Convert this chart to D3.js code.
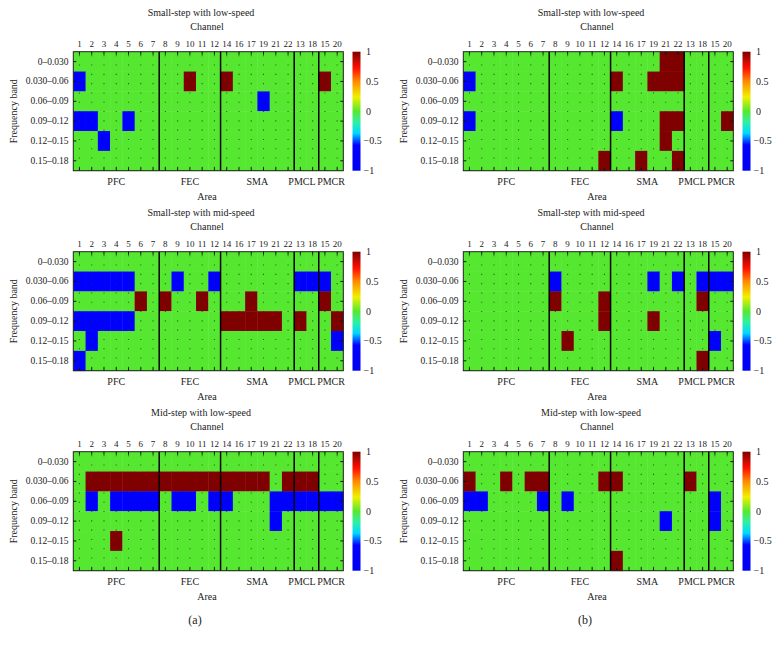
<!DOCTYPE html>
<html>
<head>
<meta charset="utf-8">
<script src="https://cdn.jsdelivr.net/npm/d3@7"></script>
<style>
  html, body { margin: 0; padding: 0; background: #fff; }
  svg text { font-family: "Liberation Serif", "DejaVu Serif", serif; fill: #222; }
</style>
</head>
<body>
<svg id="chart" width="780" height="646"></svg>
<script>
// ---------- data ----------
const channels = ["1","2","3","4","5","6","7","8","9","10","11","12","14","16","17","19","21","22","13","18","15","20"];
const bands = ["0\u20130.030","0.030\u20130.06","0.06\u20130.09","0.09\u20130.12","0.12\u20130.15","0.15\u20130.18"];
const areaNames = ["PFC","FEC","SMA","PMCL","PMCR"];
const areaSizes = [7,5,6,2,2];
const panelTitles = ["Small-step with low-speed","Small-step with low-speed",
                     "Small-step with mid-speed","Small-step with mid-speed",
                     "Mid-step with low-speed","Mid-step with low-speed"];
const colorbarTicks = [1,0.5,0,-0.5,-1];
const subLabels = ["(a)","(b)"];

// columns: 1..7 | 8..12 | 14 16 17 19 21 22 | 13 18 | 15 20
const smallLowA = [
 [0,0,0,0,0,0,0, 0,0,0,0,0, 0,0,0,0,0,0, 0,0, 0,0],
 [-1,0,0,0,0,0,0, 0,0,1,0,0, 1,0,0,0,0,0, 0,0, 1,0],
 [0,0,0,0,0,0,0, 0,0,0,0,0, 0,0,0,-1,0,0, 0,0, 0,0],
 [-1,-1,0,0,-1,0,0, 0,0,0,0,0, 0,0,0,0,0,0, 0,0, 0,0],
 [0,0,-1,0,0,0,0, 0,0,0,0,0, 0,0,0,0,0,0, 0,0, 0,0],
 [0,0,0,0,0,0,0, 0,0,0,0,0, 0,0,0,0,0,0, 0,0, 0,0]];
const smallLowB = [
 [0,0,0,0,0,0,0, 0,0,0,0,0, 0,0,0,0,1,1, 0,0, 0,0],
 [-1,0,0,0,0,0,0, 0,0,0,0,0, 1,0,0,1,1,1, 0,0, 0,0],
 [0,0,0,0,0,0,0, 0,0,0,0,0, 0,0,0,0,0,0, 0,0, 0,0],
 [-1,0,0,0,0,0,0, 0,0,0,0,0, -1,0,0,0,1,1, 0,0, 0,1],
 [0,0,0,0,0,0,0, 0,0,0,0,0, 0,0,0,0,1,0, 0,0, 0,0],
 [0,0,0,0,0,0,0, 0,0,0,0,1, 0,0,1,0,0,1, 0,0, 0,0]];
const smallMidA = [
 [0,0,0,0,0,0,0, 0,0,0,0,0, 0,0,0,0,0,0, 0,0, 0,0],
 [-1,-1,-1,-1,-1,0,0, 0,-1,0,0,-1, 0,0,0,0,0,0, -1,-1, -1,0],
 [0,0,0,0,0,1,0, 1,0,0,1,0, 0,0,1,0,0,0, 0,0, 1,0],
 [-1,-1,-1,-1,-1,0,0, 0,0,0,0,0, 1,1,1,1,1,0, 1,0, 0,1],
 [0,-1,0,0,0,0,0, 0,0,0,0,0, 0,0,0,0,0,0, 0,0, 0,-1],
 [-1,0,0,0,0,0,0, 0,0,0,0,0, 0,0,0,0,0,0, 0,0, 0,0]];
const smallMidB = [
 [0,0,0,0,0,0,0, 0,0,0,0,0, 0,0,0,0,0,0, 0,0, 0,0],
 [0,0,0,0,0,0,0, -1,0,0,0,0, 0,0,0,-1,0,-1, 0,-1, -1,-1],
 [0,0,0,0,0,0,0, 1,0,0,0,1, 0,0,0,0,0,0, 0,1, 0,0],
 [0,0,0,0,0,0,0, 0,0,0,0,1, 0,0,0,1,0,0, 0,0, 0,0],
 [0,0,0,0,0,0,0, 0,1,0,0,0, 0,0,0,0,0,0, 0,0, -1,0],
 [0,0,0,0,0,0,0, 0,0,0,0,0, 0,0,0,0,0,0, 0,1, 0,0]];
const midLowA = [
 [0,0,0,0,0,0,0, 0,0,0,0,0, 0,0,0,0,0,0, 0,0, 0,0],
 [0,1,1,1,1,1,1, 1,1,1,1,1, 1,1,1,1,0,1, 1,1, 0,0],
 [0,-1,0,-1,-1,-1,-1, 0,-1,-1,0,-1, -1,0,0,0,-1,-1, -1,-1, -1,-1],
 [0,0,0,0,0,0,0, 0,0,0,0,0, 0,0,0,0,-1,0, 0,0, 0,0],
 [0,0,0,1,0,0,0, 0,0,0,0,0, 0,0,0,0,0,0, 0,0, 0,0],
 [0,0,0,0,0,0,0, 0,0,0,0,0, 0,0,0,0,0,0, 0,0, 0,0]];
const midLowB = [
 [0,0,0,0,0,0,0, 0,0,0,0,0, 0,0,0,0,0,0, 0,0, 0,0],
 [1,0,0,1,0,1,1, 0,0,0,0,1, 1,0,0,0,0,0, 1,0, 0,0],
 [-1,-1,0,0,0,0,-1, 0,-1,0,0,0, 0,0,0,0,0,0, 0,0, -1,0],
 [0,0,0,0,0,0,0, 0,0,0,0,0, 0,0,0,0,-1,0, 0,0, -1,0],
 [0,0,0,0,0,0,0, 0,0,0,0,0, 0,0,0,0,0,0, 0,0, 0,0],
 [0,0,0,0,0,0,0, 0,0,0,0,0, 1,0,0,0,0,0, 0,0, 0,0]];
const panelData = [smallLowA, smallLowB, smallMidA, smallMidB, midLowA, midLowB];

// ---------- drawing ----------
const svg = d3.select("#chart");
svg.append("rect").attr("width",780).attr("height",646).attr("fill","#fff");

const colorStops = [
  [-1, "#0000f0"], [-0.57, "#0000ff"], [-0.37, "#00d8ff"], [-0.18, "#30f0a0"],
  [0, "#56e830"], [0.24, "#f0f000"], [0.5, "#ff8a00"], [0.72, "#ff1000"], [1, "#7f0000"]];
const color = d3.scaleLinear()
  .domain(colorStops.map(d => d[0]))
  .range(colorStops.map(d => d[1]))
  .interpolate(d3.interpolateRgb);
const cellColor = v => v === 1 ? "#800000" : v === -1 ? "#0000ff" : "#56e830";

const plotL = 73.3, plotR = 343.3, plotT = 51.7, plotB = 170.7;
const x = d3.scaleBand().domain(channels).range([plotL, plotR]).padding(0);
const y = d3.scaleBand().domain(bands).range([plotT, plotB]).padding(0);
const cb = d3.scaleLinear().domain([-1, 1]).range([plotB, plotT]);

const defs = svg.append("defs");
const grad = defs.append("linearGradient").attr("id","cbgrad")
  .attr("x1",0).attr("y1",1).attr("x2",0).attr("y2",0);
colorStops.forEach(s => grad.append("stop")
  .attr("offset", ((s[0]+1)/2*100) + "%").attr("stop-color", s[1]));

// area boundaries (start indices)
const areaStarts = [];
areaSizes.reduce((acc, n) => { areaStarts.push(acc); return acc + n; }, 0);

panelData.forEach((mat, pi) => {
  const col = pi % 2, row = Math.floor(pi / 2);
  const g = svg.append("g").attr("transform", `translate(${col*390},${row*200})`);

  // cells
  mat.forEach((rowVals, r) => {
    rowVals.forEach((v, c) => {
      g.append("rect")
        .attr("x", x(channels[c])).attr("y", y(bands[r]))
        .attr("width", x.bandwidth() + 0.4).attr("height", y.bandwidth() + 0.4)
        .attr("fill", cellColor(v));
    });
  });

  // dotted grid at channel centres
  channels.forEach(ch => {
    const cx = x(ch) + x.bandwidth()/2;
    g.append("line").attr("x1", cx).attr("x2", cx).attr("y1", plotT).attr("y2", plotB)
      .attr("stroke", "#1d3a08").attr("stroke-width", 1.1).attr("stroke-opacity", 0.75)
      .attr("stroke-dasharray", "1.1,8.2").attr("stroke-dashoffset", 5.8);
    g.append("line").attr("x1", cx).attr("x2", cx).attr("y1", plotT).attr("y2", plotT+3)
      .attr("stroke", "#111").attr("stroke-width", 1);
    g.append("line").attr("x1", cx).attr("x2", cx).attr("y1", plotB).attr("y2", plotB-3)
      .attr("stroke", "#111").attr("stroke-width", 1);
  });
  bands.forEach(b => {
    const cy = y(b) + y.bandwidth()/2;
    g.append("line").attr("x1", plotL).attr("x2", plotL+3).attr("y1", cy).attr("y2", cy)
      .attr("stroke", "#111").attr("stroke-width", 1);
    g.append("line").attr("x1", plotR).attr("x2", plotR-3).attr("y1", cy).attr("y2", cy)
      .attr("stroke", "#111").attr("stroke-width", 1);
  });

  // area separators
  areaStarts.slice(1).forEach(si => {
    const sx = x(channels[si]);
    g.append("line").attr("x1", sx).attr("x2", sx).attr("y1", plotT).attr("y2", plotB)
      .attr("stroke", "#000").attr("stroke-width", 1.5);
  });

  // border
  g.append("rect").attr("x", plotL).attr("y", plotT)
    .attr("width", plotR - plotL).attr("height", plotB - plotT)
    .attr("fill", "none").attr("stroke", "#222").attr("stroke-width", 1);

  // titles
  g.append("text").attr("x", 201).attr("y", 16).attr("text-anchor", "middle")
    .attr("font-size", 10).text(panelTitles[pi]);
  g.append("text").attr("x", 207).attr("y", 30).attr("text-anchor", "middle")
    .attr("font-size", 10).text("Channel");

  // channel labels
  channels.forEach(ch => {
    g.append("text").attr("x", x(ch) + x.bandwidth()/2).attr("y", 46.5)
      .attr("text-anchor", "middle").attr("font-size", 9).text(ch);
  });
  // band labels
  bands.forEach(b => {
    g.append("text").attr("x", 68.5).attr("y", y(b) + y.bandwidth()/2)
      .attr("text-anchor", "end").attr("dominant-baseline", "central")
      .attr("font-size", 9.5).text(b);
  });
  g.append("text").attr("transform", `translate(13.5,${(plotT+plotB)/2}) rotate(-90)`)
    .attr("text-anchor", "middle").attr("dominant-baseline", "central")
    .attr("font-size", 10).text("Frequency band");

  // area labels
  areaNames.forEach((a, ai) => {
    const s = areaStarts[ai], e = s + areaSizes[ai] - 1;
    let cx = (x(channels[s]) + x(channels[e]) + x.bandwidth()) / 2;
    if (a === "PMCL") cx -= 4.5;
    g.append("text").attr("x", cx).attr("y", 185).attr("text-anchor", "middle")
      .attr("font-size", 10).text(a);
  });
  g.append("text").attr("x", 207).attr("y", 200).attr("text-anchor", "middle")
    .attr("font-size", 10).text("Area");

  // colorbar
  g.append("rect").attr("x", 352.5).attr("y", cb(1)).attr("width", 8)
    .attr("height", cb(-1) - cb(1)).attr("fill", "url(#cbgrad)");
  colorbarTicks.forEach(t => {
    g.append("text").attr("x", t < 0 ? 363.5 : 366).attr("y", cb(t))
      .attr("dominant-baseline", "central").attr("font-size", 10)
      .text(t < 0 ? "\u2212" + Math.abs(t) : String(t));
  });

  if (row === 2) {
    g.append("text").attr("x", 195).attr("y", 224).attr("text-anchor", "middle")
      .attr("font-size", 12).text(subLabels[col]);
  }
});
</script>
</body>
</html>
